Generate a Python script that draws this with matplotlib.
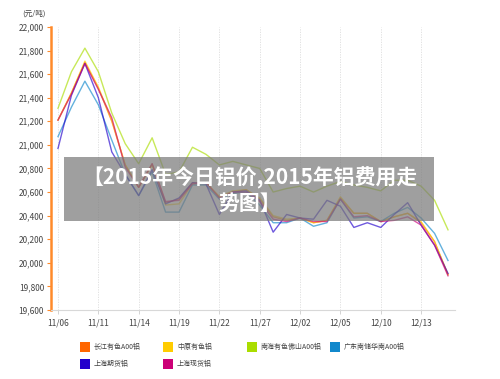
import numpy as np
import matplotlib
matplotlib.use("Agg")
from matplotlib import pyplot as plt
from matplotlib.patches import Rectangle

plt.rcParams['font.family'] = ['Noto Sans CJK SC', 'DejaVu Sans']

tick_labels = ['11/06', '11/11', '11/14', '11/19', '11/22', '11/27',
               '12/02', '12/05', '12/10', '12/13']

names = ['长江有色A00铝', '中原有色铝', '南海有色佛山A00铝', '广东南储华南A00铝',
         '上海期货铝', '上海现货铝']
colors = ['#ff6600', '#ffcc00', '#aadd00', '#1188cc', '#2200cc', '#cc0077']

changjiang = [21210, 21440, 21700, 21480, 21200, 20830, 20640, 20840, 20510, 20540,
              20680, 20680, 20560, 20600, 20620, 20540, 20390, 20360, 20380, 20340,
              20360, 20550, 20420, 20420, 20350, 20390, 20420, 20340, 20180, 19900]
zhongyuan = [21210, 21440, 21710, 21490, 21210, 20830, 20640, 20830, 20490, 20500,
             20670, 20680, 20560, 20610, 20620, 20550, 20400, 20370, 20380, 20340,
             20360, 20560, 20420, 20420, 20350, 20390, 20420, 20350, 20180, 19900]
nanhai = [21310, 21620, 21820, 21620, 21270, 21010, 20840, 21060, 20750, 20770,
          20980, 20920, 20830, 20860, 20830, 20800, 20600, 20630, 20650, 20600,
          20650, 20690, 20660, 20640, 20610, 20700, 20700, 20650, 20530, 20280]
guangdong = [21070, 21320, 21540, 21340, 21040, 20750, 20570, 20770, 20430, 20430,
             20660, 20660, 20540, 20590, 20600, 20490, 20340, 20340, 20380, 20310,
             20340, 20540, 20380, 20390, 20350, 20420, 20470, 20380, 20250, 20020]
shqh = [20970, 21420, 21690, 21400, 20940, 20750, 20570, 20790, 20500, 20550,
        20680, 20670, 20410, 20600, 20610, 20530, 20260, 20410, 20380, 20370,
        20530, 20480, 20300, 20340, 20300, 20410, 20510, 20320, 20150, 19910]
shxh = [21210, 21430, 21690, 21470, 21230, 20810, 20640, 20840, 20520, 20530,
        20670, 20680, 20550, 20600, 20600, 20520, 20370, 20350, 20380, 20350,
        20350, 20540, 20390, 20400, 20350, 20360, 20390, 20320, 20150, 19890]

series = [changjiang, zhongyuan, nanhai, guangdong, shqh, shxh]
x = np.arange(len(changjiang))

fig = plt.figure(figsize=(5, 3.79), dpi=100)
ax = fig.add_axes([0.102, 0.182, 0.808, 0.747])

for vals, c in zip(series, colors):
    ax.plot(x, vals, color=c, lw=1, alpha=0.65, zorder=3)

ax.set_xlim(-0.52, len(x) - 0.48)
ax.set_ylim(19600, 22000)
ax.set_yticks(np.arange(19600, 22001, 200))
ax.set_yticklabels([f'{v:,}' for v in range(19600, 22001, 200)])
ax.set_xticks(x[::3])
ax.set_xticklabels(tick_labels)
for t in x[::3]:
    ax.axvline(t, color='#dddddd', lw=0.6, ls=(0, (1.5, 1.5)), zorder=1)

for s in ['top', 'right']:
    ax.spines[s].set_visible(False)
ax.spines['left'].set_color('#ff8a2a')
ax.spines['left'].set_linewidth(1.8)
ax.spines['bottom'].set_color('#d8d8d8')
ax.tick_params(axis='y', colors='#ff8a2a', length=3, width=0.8, labelsize=6,
               labelcolor='#444444', pad=2)
ax.tick_params(axis='x', colors='#cccccc', length=3, width=0.6, labelsize=6,
               labelcolor='#444444', pad=3)

fig.text(0.044, 0.965, '(元/吨)', fontsize=5.5, color='#444444', va='center')

# overlay title
fig.patches.append(Rectangle((64 / 500, 1 - 221 / 379), 370 / 500, 64 / 379,
                             transform=fig.transFigure, facecolor='#7a7a7a',
                             alpha=0.72, edgecolor='none', zorder=5))
fig.text(0.5, 1 - 178 / 379, '【2015年今日铝价,2015年铝费用走', fontsize=15,
         fontweight='bold', color='white', ha='center', va='center', zorder=6)
fig.text(0.5, 1 - 203 / 379, '势图】', fontsize=15,
         fontweight='bold', color='white', ha='center', va='center', zorder=6)

# legend
legend_pos = [(80, 347), (163, 347), (247, 347), (330, 347), (80, 364), (163, 364)]
for (px, py), n, c in zip(legend_pos, names, colors):
    fig.patches.append(Rectangle((px / 500, 1 - (py + 5) / 379), 10 / 500, 10 / 379,
                                 transform=fig.transFigure, facecolor=c,
                                 edgecolor='none'))
    fig.text((px + 14) / 500, 1 - py / 379, n, fontsize=5, color='#444444',
             va='center')

fig.savefig('out.png', dpi=100)
